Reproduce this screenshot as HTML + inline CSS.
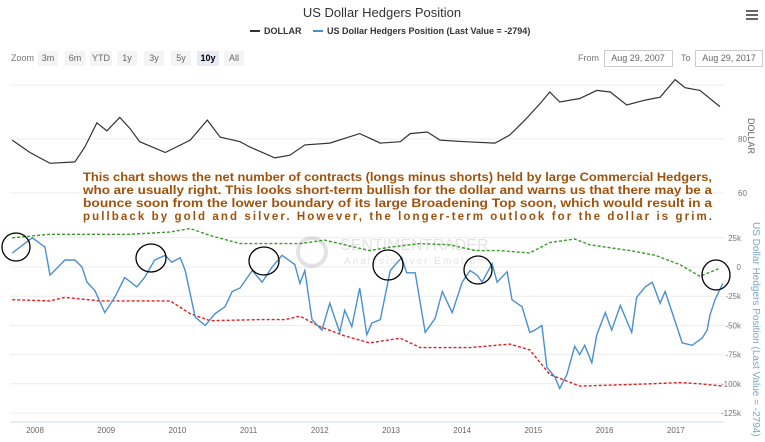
<!DOCTYPE html>
<html><head><meta charset="utf-8"><style>
body{margin:0;background:#fff;width:765px;height:442px;overflow:hidden;font-family:"Liberation Sans",sans-serif}
svg{display:block}
</style></head><body>
<svg id="c" width="765" height="442" xmlns="http://www.w3.org/2000/svg">
<text x="382" y="17" text-anchor="middle" font-size="13" fill="#333">US Dollar Hedgers Position</text>
<g font-size="9" font-weight="bold" fill="#333">
 <g><line x1="250" y1="31" x2="260" y2="31" stroke="#333" stroke-width="2"/><text x="264" y="34">DOLLAR</text></g>
 <g><line x1="313" y1="31" x2="323" y2="31" stroke="#4a8fd0" stroke-width="2"/><text x="327" y="34">US Dollar Hedgers Position (Last Value = -2794)</text></g>
</g>
<g stroke="#666" stroke-width="2"><line x1="746" y1="11" x2="758" y2="11"/><line x1="746" y1="15" x2="758" y2="15"/><line x1="746" y1="19" x2="758" y2="19"/></g>
<g font-size="9" fill="#666">
 <text x="11" y="61" fill="#777">Zoom</text>
 <g><rect x="38" y="51" width="20" height="15" fill="#f4f4f4"/><text x="48" y="61" text-anchor="middle">3m</text></g>
 <g><rect x="65" y="51" width="20" height="15" fill="#f4f4f4"/><text x="75" y="61" text-anchor="middle">6m</text></g>
 <g><rect x="90" y="51" width="22" height="15" fill="#f4f4f4"/><text x="101" y="61" text-anchor="middle">YTD</text></g>
 <g><rect x="117" y="51" width="20" height="15" fill="#f4f4f4"/><text x="127" y="61" text-anchor="middle">1y</text></g>
 <g><rect x="144" y="51" width="20" height="15" fill="#f4f4f4"/><text x="154" y="61" text-anchor="middle">3y</text></g>
 <g><rect x="171" y="51" width="20" height="15" fill="#f4f4f4"/><text x="181" y="61" text-anchor="middle">5y</text></g>
 <g><rect x="197" y="51" width="22" height="15" fill="#e6ebf5"/><text x="208" y="61" text-anchor="middle" font-weight="bold" fill="#000">10y</text></g>
 <g><rect x="224" y="51" width="20" height="15" fill="#f4f4f4"/><text x="234" y="61" text-anchor="middle">All</text></g>
 <text x="578" y="61" fill="#777">From</text>
 <g><rect x="604.5" y="50.5" width="68" height="16" fill="#fff" stroke="#ccc"/><text x="638" y="61" text-anchor="middle">Aug 29, 2007</text></g>
 <text x="681" y="61" fill="#777">To</text>
 <g><rect x="695.5" y="50.5" width="67" height="16" fill="#fff" stroke="#ccc"/><text x="729" y="61" text-anchor="middle">Aug 29, 2017</text></g>
</g>
<g id="grid"></g>
<g opacity="0.18">
 <circle cx="312" cy="252" r="14" fill="none" stroke="#666" stroke-width="4"/>
 <text x="340" y="250" font-size="16" fill="#666">SENTIMENTRADER</text>
 <text x="344" y="264" font-size="10" fill="#666" letter-spacing="2">Analysis over Emotion</text>
</g>
<g id="series"></g>
<g id="axes"></g>
<text x="0" y="0" transform="translate(748,118) rotate(90)" font-size="9" fill="#666">DOLLAR</text>
<text x="0" y="0" transform="translate(753,222) rotate(90)" font-size="10" fill="#7aa7c7">US Dollar Hedgers Position (Last Value = -2794)</text>
<g fill="none" stroke="#000" stroke-width="1.3">
 <ellipse cx="16" cy="247" rx="14" ry="14"/><ellipse cx="151" cy="258" rx="15" ry="14"/><ellipse cx="264" cy="261" rx="15" ry="14"/><ellipse cx="388" cy="265" rx="15" ry="15"/><ellipse cx="478" cy="270" rx="14" ry="14"/><ellipse cx="716" cy="275" rx="14" ry="15"/>
</g>
<g font-weight="bold" font-size="11.5" fill="#a0520c">
 <text x="83" y="181" textLength="629" lengthAdjust="spacingAndGlyphs">This chart shows the net number of contracts (longs minus shorts) held by large Commercial Hedgers,</text>
 <text x="83" y="194" textLength="629" lengthAdjust="spacingAndGlyphs">who are usually right. This looks short-term bullish for the dollar and warns us that there may be a</text>
 <text x="83" y="207" textLength="629" lengthAdjust="spacingAndGlyphs">bounce soon from the lower boundary of its large Broadening Top soon, which would result in a</text>
 <text x="83" y="220" textLength="629" lengthAdjust="spacing">pullback by gold and silver. However, the longer-term outlook for the dollar is grim.</text>
</g>
</svg>
<script>
const dollarDates=[2007.68,2007.93,2008.21,2008.56,2008.70,2008.87,2009.01,2009.19,2009.33,2009.47,2009.83,2010.18,2010.42,2010.60,2010.88,2011.02,2011.37,2011.58,2011.79,2012.14,2012.56,2012.85,2013.13,2013.27,2013.51,2013.69,2014.04,2014.46,2014.67,2014.88,2015.09,2015.23,2015.37,2015.65,2015.89,2016.08,2016.31,2016.57,2016.78,2016.99,2017.13,2017.34,2017.62];
const dollarValues=[79.6,75,71,71.5,77,86,83,88,84,79,75,79.6,87,80.7,79,77,73,74,77.8,78.5,82,78.5,79,82,82.6,79.6,79,78.5,81.5,87,93,97.4,93.7,95,98,97.4,92.6,94.4,95.5,102,99,98,92];
const hedgeDates=[2007.68,2007.96,2008.14,2008.21,2008.42,2008.56,2008.66,2008.73,2008.84,2008.98,2009.12,2009.26,2009.43,2009.54,2009.68,2009.83,2009.92,2010.04,2010.11,2010.25,2010.39,2010.53,2010.67,2010.77,2010.88,2011.05,2011.19,2011.33,2011.47,2011.65,2011.72,2011.79,2011.89,2012.03,2012.14,2012.28,2012.35,2012.45,2012.56,2012.66,2012.73,2012.85,2012.99,2013.06,2013.15,2013.22,2013.34,2013.48,2013.62,2013.72,2013.86,2014.00,2014.11,2014.21,2014.28,2014.42,2014.49,2014.63,2014.70,2014.84,2014.95,2015.02,2015.12,2015.19,2015.30,2015.37,2015.47,2015.58,2015.65,2015.72,2015.82,2015.89,2016.01,2016.10,2016.22,2016.38,2016.45,2016.57,2016.67,2016.78,2016.85,2016.95,2017.09,2017.23,2017.37,2017.44,2017.48,2017.55,2017.66];
const hedgeValues=[12,25,17,-7,6,6,0,-13,-20,-39,-26,-9,-17,-9,6,10,4,8,-3,-43,-50,-40,-34,-21,-18,-3,-13,0,10,2,-14,-3,-45,-54,-31,-56,-37,-51,-18,-58,-48,-45,-3,2,8,-5,-5,-56,-44,-21,-39,-13,-3,-7,-13,3,-13,-4,-28,-34,-56,-54,-50,-86,-94,-104,-92,-68,-75,-67,-82,-58,-39,-54,-33,-56,-26,-17,-13,-31,-21,-39,-65,-67,-61,-54,-41,-28,-14,-7,-2.8];
const upperDates=[2007.68,2008.21,2009.33,2009.90,2010.18,2010.46,2010.88,2011.72,2012.07,2012.70,2012.99,2013.41,2013.83,2014.18,2014.53,2014.95,2015.23,2015.58,2015.79,2016.36,2016.71,2017.06,2017.34,2017.62];
const upperValues=[25,28,28,30,33,27,20,20,23,14,17,20,19,14,14,12,21,24,19,14,10,2,-8,-1];
const lowerDates=[2007.68,2008.21,2008.42,2008.91,2009.90,2010.18,2010.46,2011.16,2011.51,2011.72,2012.00,2012.35,2012.70,2013.13,2013.41,2014.11,2014.67,2014.95,2015.23,2015.65,2016.64,2017.06,2017.34,2017.66];
const lowerValues=[-28,-29,-26,-29,-29,-40,-46,-45,-45,-42,-51,-59,-65,-61,-69,-69,-66,-71,-92,-102,-100,-99,-100,-102];
const yearTicks=[2008,2009,2010,2011,2012,2013,2014,2015,2016,2017];
const dollarTicks=[60,80,100];
const hedgeTicks=[25,0,-25,-50,-75,-100,-125];
const hedgeTickLabels=["25k","0","-25k","-50k","-75k","-100k","-125k"];

const NS="http://www.w3.org/2000/svg";
const xS=t=>35+(t-2008)*71.2;
const yD=v=>139-(v-80)*2.7;
const yH=v=>267-v*29.2/25;
function mk(tag,attrs,parent){const e=document.createElementNS(NS,tag);for(const k in attrs)e.setAttribute(k,attrs[k]);parent.appendChild(e);return e;}
const grid=document.getElementById('grid'),series=document.getElementById('series'),axes=document.getElementById('axes');
dollarTicks.forEach(v=>{
 const l=mk('line',{x1:10,x2:724,y1:yD(v),y2:yD(v),stroke:'#ececec'},grid);
 
 
 if(v!==100){const t=mk('text',{x:738,y:yD(v)+3,'font-size':8,fill:'#777'},axes);t.textContent=v;
 
 }
});
hedgeTicks.forEach((v,i)=>{
 const l=mk('line',{x1:10,x2:724,y1:yH(v),y2:yH(v),stroke:'#ececec'},grid);
 
 
 const t=mk('text',{x:741,y:yH(v)+3,'font-size':8,fill:'#777','text-anchor':'end'},axes);t.textContent=hedgeTickLabels[i];
 
 
});
const base=mk('line',{x1:10,x2:724,y1:422,y2:422,stroke:'#ccd6eb'},axes);


yearTicks.forEach(y=>{
 const t=mk('text',{x:xS(y),y:433,'font-size':8,fill:'#666','text-anchor':'middle'},axes);t.textContent=y;
 
 
});
function line(ds,vs,ys,attrs,name){
 const d=ds.map((t,i)=>(i?'L':'M')+xS(t).toFixed(1)+','+ys(vs[i]).toFixed(1)).join('');
 const p=mk('path',Object.assign({d:d,fill:'none'},attrs),series);
 
 
}
line(upperDates,upperValues,yH,{stroke:'#3a9a2a','stroke-width':1.4,'stroke-dasharray':'3,2'},'upper-band-line');
line(lowerDates,lowerValues,yH,{stroke:'#e02020','stroke-width':1.4,'stroke-dasharray':'3,2'},'lower-band-line');
line(hedgeDates,hedgeValues,yH,{stroke:'#4a8fd0','stroke-width':1.4},'hedgers-line');
line(dollarDates,dollarValues,yD,{stroke:'#333','stroke-width':1.2},'dollar-line');
</script>
</body></html>
